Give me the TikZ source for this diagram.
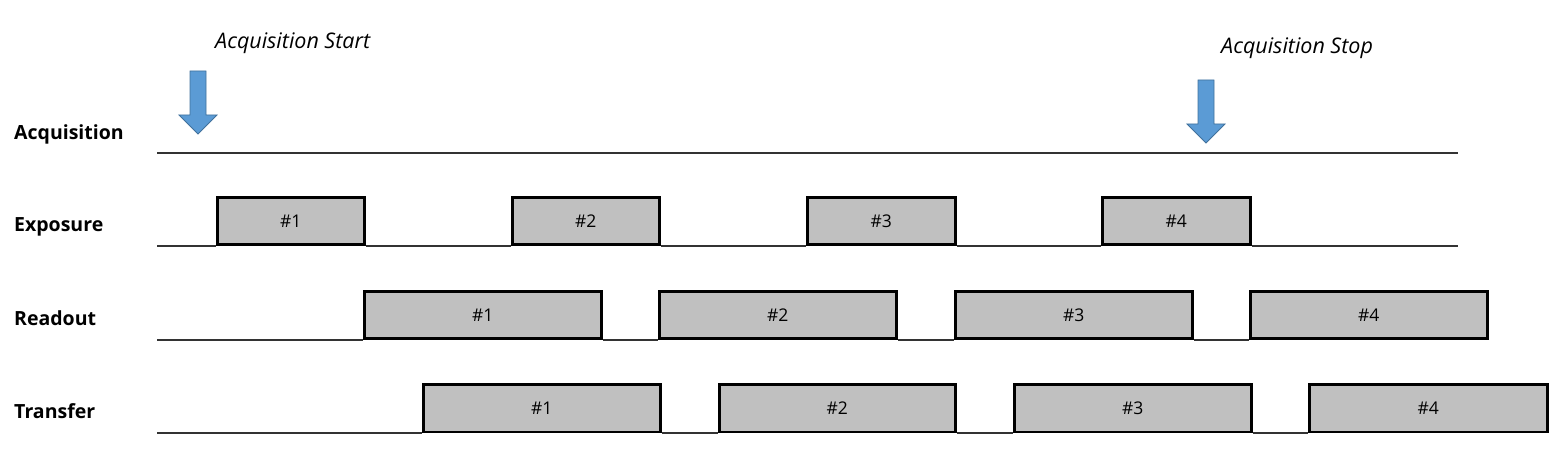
\documentclass[tikz,border=0pt]{standalone}
\usepackage{fontspec}
\setmainfont{Open Sans}
\definecolor{boxfill}{HTML}{C0C0C0}
\definecolor{arrfill}{HTML}{5B9BD5}
\definecolor{arrline}{HTML}{41719C}
\definecolor{axis}{HTML}{333333}
\begin{document}
\begin{tikzpicture}[x=1pt,y=-1pt,
  slot/.style={draw=black,line width=2.5pt,fill=boxfill,anchor=south west,
    minimum height=47pt,inner sep=0pt,text depth=0pt,font=\fontsize{17.5}{20}\selectfont},
  rowlabel/.style={anchor=west,inner sep=0pt,text depth=0pt,font=\bfseries\fontsize{19.5}{22}\selectfont},
  evlabel/.style={anchor=west,inner sep=0pt,text depth=0pt,font=\itshape\fontsize{21.5}{24}\selectfont},
  timeline/.style={draw=axis,line width=1.3pt},
  evarrow/.style={fill=arrfill,draw=arrline,line width=0.8pt,line join=miter}]
\useasboundingbox (0,0) rectangle (1567,462);
% row labels
\node[rowlabel] (lacq) at (14,132) {Acquisition};
\node[rowlabel] (lexp) at (14,225) {Exposure};
\node[rowlabel] (lrd) at (14,318) {Readout};
\node[rowlabel] (ltr) at (14,411) {Transfer};
% timeline ends
\coordinate (acq0) at (157,153); \coordinate (acq1) at (1458,153);
\coordinate (exp0) at (157,246); \coordinate (exp1) at (1458,246);
\coordinate (rd0) at (157,340);
\coordinate (tr0) at (157,433);
% exposure
\node[slot,minimum width=147pt] (e1) at (216,246) {\#1};
\node[slot,minimum width=147pt] (e2) at (511,246) {\#2};
\node[slot,minimum width=148pt] (e3) at (806,246) {\#3};
\node[slot,minimum width=148pt] (e4) at (1101,246) {\#4};
% readout
\node[slot,minimum width=237pt] (r1) at (363,340) {\#1};
\node[slot,minimum width=237pt] (r2) at (658,340) {\#2};
\node[slot,minimum width=237pt] (r3) at (954,340) {\#3};
\node[slot,minimum width=237pt] (r4) at (1249,340) {\#4};
% transfer
\node[slot,minimum width=237pt] (t1) at (422,433) {\#1};
\node[slot,minimum width=236pt] (t2) at (718,433) {\#2};
\node[slot,minimum width=237pt] (t3) at (1013,433) {\#3};
\node[slot,minimum width=238pt] (t4) at (1308,433) {\#4};
% timelines
\draw[timeline] (acq0) -- (acq1);
\draw[timeline] (exp0) -- (e1.south west);
\draw[timeline] (e1.south east) -- (e2.south west);
\draw[timeline] (e2.south east) -- (e3.south west);
\draw[timeline] (e3.south east) -- (e4.south west);
\draw[timeline] (e4.south east) -- (exp1);
\draw[timeline] (rd0) -- (r1.south west);
\draw[timeline] (r1.south east) -- (r2.south west);
\draw[timeline] (r2.south east) -- (r3.south west);
\draw[timeline] (r3.south east) -- (r4.south west);
\draw[timeline] (tr0) -- (t1.south west);
\draw[timeline] (t1.south east) -- (t2.south west);
\draw[timeline] (t2.south east) -- (t3.south west);
\draw[timeline] (t3.south east) -- (t4.south west);
% event arrows
\draw[evarrow] (190,71) -- (206,71) -- (206,115) -- (217,115) -- (198,134) -- (179,115) -- (190,115) -- cycle;
\draw[evarrow] (1198,80) -- (1214,80) -- (1214,124) -- (1225,124) -- (1206,143) -- (1187,124) -- (1198,124) -- cycle;
\node[evlabel] (start) at (215,41) {Acquisition Start};
\node[evlabel] (stop) at (1221,46) {Acquisition Stop};
\end{tikzpicture}
\end{document}
